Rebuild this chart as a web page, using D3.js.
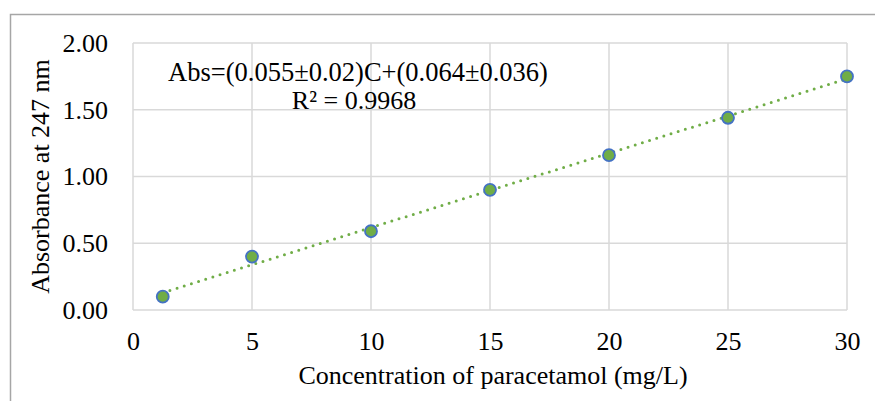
<!DOCTYPE html>
<html>
<head>
<meta charset="utf-8">
<script src="https://cdn.jsdelivr.net/npm/d3@7"></script>
<style>
  html, body { margin: 0; padding: 0; background: #fff; }
  svg { display: block; }
</style>
</head>
<body>
<svg id="chart" width="875" height="401"></svg>
<script>
// Calibration data: paracetamol concentration (mg/L) vs absorbance at 247 nm
const concentrations = [1.25, 5, 10, 15, 20, 25, 30];
const absorbances = [0.10, 0.40, 0.59, 0.90, 1.16, 1.44, 1.75];
const xTicks = [0, 5, 10, 15, 20, 25, 30];
const yTicks = [0, 0.5, 1.0, 1.5, 2.0];
const equationText = "Abs=(0.055\u00b10.02)C+(0.064\u00b10.036)";
const r2Text = "R\u00b2 = 0.9968";
const xTitle = "Concentration of paracetamol (mg/L)";
const yTitle = "Absorbance at 247 nm";

const svg = d3.select("#chart");
const W = 875, H = 401;
const plot = { left: 133, right: 847, top: 43, bottom: 310 };
const serif = "'Liberation Serif', 'Times New Roman', serif";
const fontSize = 26;

// Chart outer frame (only top and left edges visible)
svg.append("path")
  .attr("d", `M10.5,${H} L10.5,14.5 L${W},14.5`)
  .attr("fill", "none")
  .attr("stroke", "#a6a6a6")
  .attr("stroke-width", 1.5);

const x = d3.scaleLinear().domain([0, 30]).range([plot.left, plot.right]);
const y = d3.scaleLinear().domain([0, 2]).range([plot.bottom, plot.top]);

// Gridlines
const grid = svg.append("g").attr("stroke", "#d9d9d9").attr("stroke-width", 1.5);
grid.selectAll("line.h").data(yTicks).join("line")
  .attr("x1", plot.left).attr("x2", plot.right)
  .attr("y1", d => y(d)).attr("y2", d => y(d));
grid.selectAll("line.v").data(xTicks).join("line")
  .attr("y1", plot.top).attr("y2", plot.bottom)
  .attr("x1", d => x(d)).attr("x2", d => x(d));

// Axis tick labels via d3 axes (domain and tick marks hidden)
const xAxis = svg.append("g")
  .attr("transform", `translate(0,${plot.bottom})`)
  .call(d3.axisBottom(x).tickValues(xTicks).tickFormat(d3.format("d")).tickSize(0).tickPadding(22));
const yAxis = svg.append("g")
  .attr("transform", `translate(${plot.left},0)`)
  .call(d3.axisLeft(y).tickValues(yTicks).tickFormat(d3.format(".2f")).tickSize(0).tickPadding(25));
[xAxis, yAxis].forEach(g => {
  g.select(".domain").remove();
  g.attr("font-family", null).attr("font-size", null);
  g.selectAll("text")
    .style("font-family", serif)
    .style("font-size", fontSize + "px")
    .attr("fill", "#000");
});

// Least-squares trendline
const n = concentrations.length;
const mx = d3.mean(concentrations), my = d3.mean(absorbances);
let sxy = 0, sxx = 0;
for (let i = 0; i < n; i++) {
  sxy += (concentrations[i] - mx) * (absorbances[i] - my);
  sxx += (concentrations[i] - mx) ** 2;
}
const slope = sxy / sxx, intercept = my - slope * mx;
const x0 = d3.min(concentrations), x1 = d3.max(concentrations);
svg.append("line")
  .attr("x1", x(x0)).attr("y1", y(slope * x0 + intercept))
  .attr("x2", x(x1)).attr("y2", y(slope * x1 + intercept))
  .attr("stroke", "#70ad47")
  .attr("stroke-width", 3)
  .attr("stroke-linecap", "round")
  .attr("stroke-dasharray", "0 7.5");

// Data markers
svg.append("g").selectAll("circle")
  .data(concentrations.map((c, i) => [c, absorbances[i]]))
  .join("circle")
  .attr("cx", d => x(d[0]))
  .attr("cy", d => y(d[1]))
  .attr("r", 6)
  .attr("fill", "#70ad47")
  .attr("stroke", "#4472c4")
  .attr("stroke-width", 1.8);

// Text helper for serif labels
function label(sel, size) {
  return sel.style("font-family", serif).style("font-size", (size || fontSize) + "px").attr("fill", "#000");
}

// Regression equation label
label(svg.append("text"), 26.5)
  .attr("x", 358).attr("y", 81)
  .attr("text-anchor", "middle")
  .text(equationText);
label(svg.append("text"))
  .attr("x", 354).attr("y", 109)
  .attr("text-anchor", "middle")
  .text(r2Text);

// Axis titles
label(svg.append("text"))
  .attr("x", 493).attr("y", 384)
  .attr("text-anchor", "middle")
  .text(xTitle);
label(svg.append("text"))
  .attr("transform", `translate(49,${(plot.top + plot.bottom) / 2}) rotate(-90)`)
  .attr("text-anchor", "middle")
  .text(yTitle);
</script>
</body>
</html>
